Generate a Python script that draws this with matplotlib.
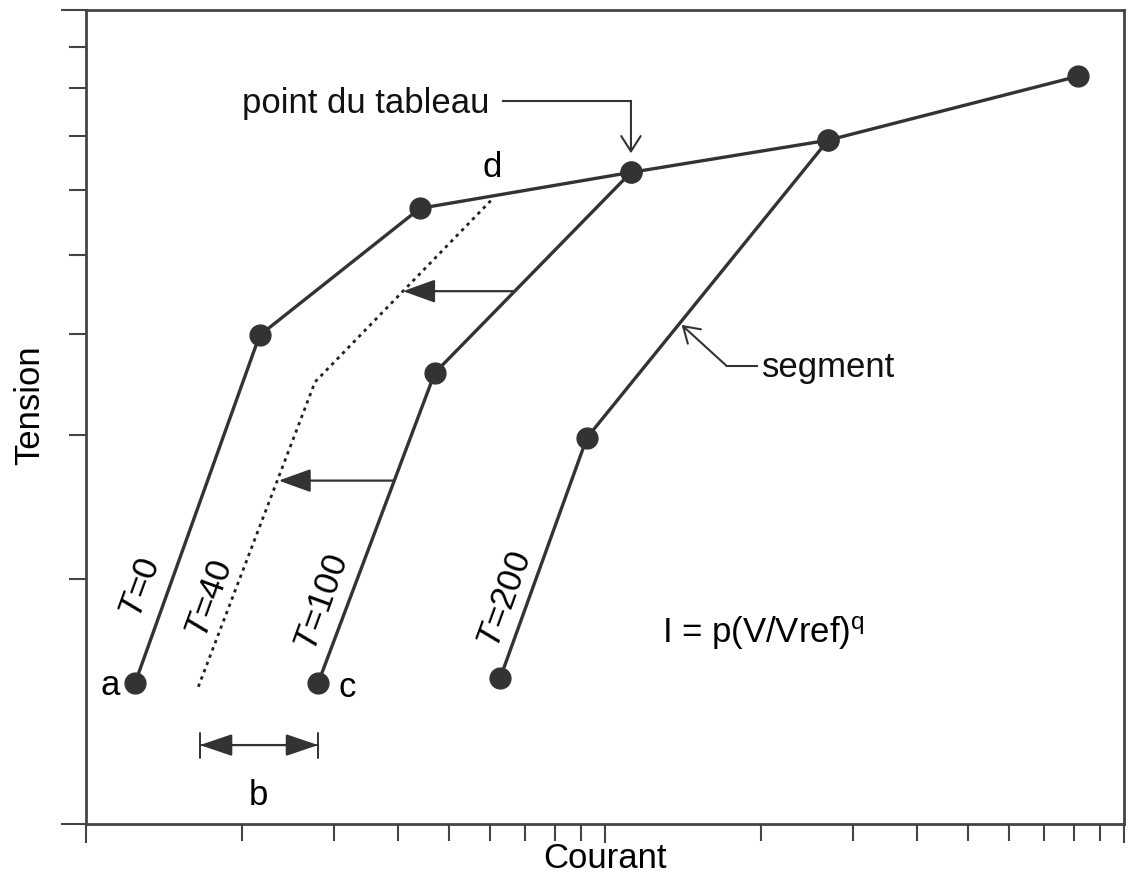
import matplotlib
matplotlib.use("Agg")
import matplotlib.pyplot as plt
from matplotlib.ticker import LogLocator, NullFormatter

plt.rcParams['font.family'] = ['Liberation Sans', 'DejaVu Sans']
plt.rcParams['mathtext.fontset'] = 'custom'
plt.rcParams['mathtext.rm'] = 'Liberation Sans'
plt.rcParams['mathtext.it'] = 'Liberation Sans:italic'

# curves (Courant, Tension), log scales
t0_i = [1.243, 2.16, 4.40, 11.22, 26.9, 81.5]
t0_v = [1.489, 3.98, 5.70, 6.31, 6.91, 8.28]
t100_i = [2.80, 4.70, 11.22]
t100_v = [1.489, 3.58, 6.31]
t200_i = [6.28, 9.23, 26.9]
t200_v = [1.51, 2.98, 6.91]
t40_i = [1.646, 2.763, 6.08]
t40_v = [1.474, 3.49, 5.86]

col = '#333333'
fs = 25

fig = plt.figure(figsize=(11.28, 8.9), dpi=100)
ax = fig.add_axes([86 / 1128, 66 / 890, 1038 / 1128, 814.5 / 890])
ax.set_xscale('log')
ax.set_yscale('log')
ax.set_xlim(1, 100)
ax.set_ylim(1, 10)

mk = dict(marker='o', markersize=15, color=col, lw=2.4, markeredgecolor=col)
ax.plot(t0_i, t0_v, **mk)
ax.plot(t100_i, t100_v, **mk)
ax.plot(t200_i, t200_v, **mk)
ax.plot(t40_i, t40_v, color='#222222', lw=2, linestyle=(0, (1.2, 1.6)))

# shift arrows
ah = dict(arrowstyle='-|>,head_length=1.0,head_width=0.36', color=col, lw=1.6,
          shrinkA=0, shrinkB=0, mutation_scale=20)
ax.annotate('', xy=(4.08, 4.51), xytext=(6.66, 4.51), arrowprops=ah)
ax.annotate('', xy=(2.35, 2.64), xytext=(3.93, 2.64), arrowprops=ah)

# b interval
ax.annotate('', xy=(1.658, 1.25), xytext=(2.80, 1.25),
            arrowprops=dict(arrowstyle='<|-|>,head_length=1.0,head_width=0.34',
                            color=col, lw=1.6, shrinkA=0, shrinkB=0, mutation_scale=20))
ax.annotate('', xy=(1.658, 1.25), xytext=(2.80, 1.25),
            arrowprops=dict(arrowstyle='|-|,widthA=0.45,widthB=0.45',
                            color=col, lw=1.4, shrinkA=0, shrinkB=0, mutation_scale=20))

# callouts
vh = dict(arrowstyle='->,head_length=0.55,head_width=0.35', color=col,
          lw=1.5, shrinkA=0, shrinkB=0, mutation_scale=20)
ax.text(6.0, 7.67, 'point du tableau', fontsize=fs, ha='right', va='center', color='#111111')
ax.plot([6.36, 11.22], [7.72, 7.72], color=col, lw=1.5)
ax.annotate('', xy=(11.22, 6.66), xytext=(11.22, 7.72), arrowprops=vh)

ax.text(20.04, 3.63, 'segment', fontsize=fs, ha='left', va='center', color='#111111')
ax.plot([19.6, 17.16], [3.65, 3.65], color=col, lw=1.5)
ax.annotate('', xy=(14.05, 4.10), xytext=(17.16, 3.65), arrowprops=vh)

# point letters
ax.text(1.112, 1.481, 'a', fontsize=fs, ha='center', va='center')
ax.text(3.18, 1.47, 'c', fontsize=fs, ha='center', va='center')
ax.text(6.06, 6.40, 'd', fontsize=fs, ha='center', va='center')
ax.text(2.145, 1.085, 'b', fontsize=fs, ha='center', va='center')

# temperature labels
for x, y, s in [(1.276, 1.948, 'T=0'), (1.733, 1.888, 'T=40'),
                (2.85, 1.867, 'T=100'), (6.42, 1.883, 'T=200')]:
    ax.text(x, y, '$\\mathit{T}$=' + s[2:], fontsize=fs, rotation=70,
            ha='center', va='center', rotation_mode='anchor')

ax.text(12.86, 1.667, 'I = p(V/Vref)$^{\\mathrm{q}}$', fontsize=fs, ha='left',
        va='baseline')

fig.text(605 / 1128, 1 - 858 / 890, 'Courant', fontsize=fs, ha='center', va='center')
fig.text(30 / 1128, 1 - 405 / 890, 'Tension', fontsize=fs, ha='center', va='center',
         rotation=90)

for sp in ax.spines.values():
    sp.set_linewidth(2)
    sp.set_color('#444444')
ax.xaxis.set_major_locator(LogLocator(base=10, subs=(1.0,)))
ax.xaxis.set_minor_locator(LogLocator(base=10, subs=range(2, 10)))
ax.yaxis.set_major_locator(LogLocator(base=10, subs=(1.0,)))
ax.yaxis.set_minor_locator(LogLocator(base=10, subs=range(2, 10)))
for a in (ax.xaxis, ax.yaxis):
    a.set_major_formatter(NullFormatter())
    a.set_minor_formatter(NullFormatter())
ax.tick_params(which='both', direction='out', length=12, width=1.5, color='#444444')
ax.tick_params(axis='y', which='major', length=18)
ax.tick_params(axis='x', which='major', length=14)

fig.savefig('out.png', dpi=100)
